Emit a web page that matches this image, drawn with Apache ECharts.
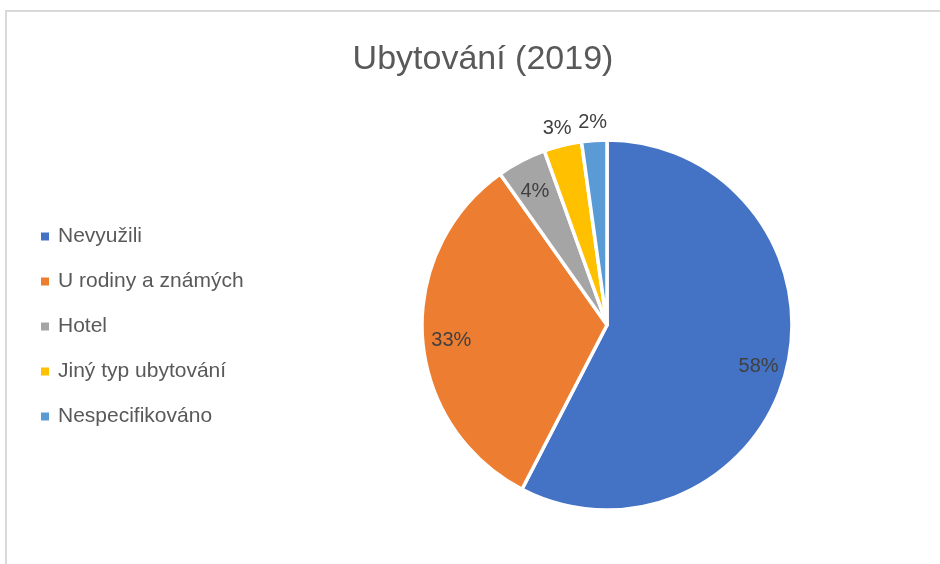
<!DOCTYPE html>
<html>
<head>
<meta charset="utf-8">
<script src="https://cdn.jsdelivr.net/npm/echarts@6/dist/echarts.min.js"></script>
<style>
  html, body { margin: 0; padding: 0; background: #fff; }
  #frame {
    position: absolute;
    left: 5px;
    top: 10px;
    width: 940px;
    height: 560px;
    border-top: 2px solid #d9d9d9;
    border-left: 2px solid #d9d9d9;
  }
  #chart { position: absolute; left: 0; top: 0; width: 940px; height: 564px; }
</style>
</head>
<body>
<div id="frame"></div>
<div id="chart"></div>
<script>
// data
const categories = ['Nevyužili', 'U rodiny a známých', 'Hotel', 'Jiný typ ubytování', 'Nespecifikováno']
const shares = [57.6, 32.6, 4.3, 3.3, 2.2]
const colors = ['#4472C4', '#ED7D31', '#A5A5A5', '#FFC000', '#5B9BD5']
// which labels sit inside the slice, which above it
const labelInside = [true, true, true, false, false]

const chart = echarts.init(document.getElementById('chart'))

const fontFamily = 'Liberation Sans, Arial, sans-serif'
const center = [607, 325]

function pctLabel(p) {
  return Math.round(p.percent) + '%'
}

// invisible ring, only used to put the labels at a given radius
function labelRing(radius, showFn) {
  return {
    type: 'pie',
    silent: true,
    center: center,
    radius: radius,
    startAngle: 90,
    avoidLabelOverlap: false,
    itemStyle: { color: 'rgba(0,0,0,0)' },
    labelLine: { show: false },
    emphasis: { disabled: true },
    data: categories.map(function (name, i) {
      return {
        name: name,
        value: shares[i],
        label: {
          show: showFn(i),
          position: 'inside',
          formatter: pctLabel,
          offset: [0, 5],
          color: '#404040',
          fontSize: 20,
          fontFamily: fontFamily
        }
      }
    })
  }
}

const option = {
  animation: false,
  color: colors,
  title: {
    text: 'Ubytování (2019)',
    left: 478,
    top: 38,
    textAlign: 'center',
    textStyle: {
      color: '#595959',
      fontSize: 34,
      fontWeight: 'normal',
      fontFamily: fontFamily
    }
  },
  legend: {
    orient: 'vertical',
    left: 39,
    top: 226,
    padding: 0,
    icon: 'rect',
    itemWidth: 10,
    itemHeight: 10,
    itemGap: 24,
    data: categories,
    textStyle: {
      color: '#595959',
      fontSize: 21,
      lineHeight: 21,
      fontFamily: fontFamily,
      padding: [0, 0, 0, 3]
    }
  },
  series: [
    {
      name: 'Ubytování',
      type: 'pie',
      center: center,
      radius: 185,
      startAngle: 90,
      itemStyle: { borderColor: '#fff', borderWidth: 3.5 },
      label: { show: false },
      labelLine: { show: false },
      emphasis: { scale: false },
      data: categories.map(function (name, i) {
        return { name: name, value: shares[i] }
      })
    },
    labelRing([140, 166], function (i) { return labelInside[i] }),
    labelRing([195, 215], function (i) { return !labelInside[i] })
  ]
}

chart.setOption(option)
</script>
</body>
</html>
